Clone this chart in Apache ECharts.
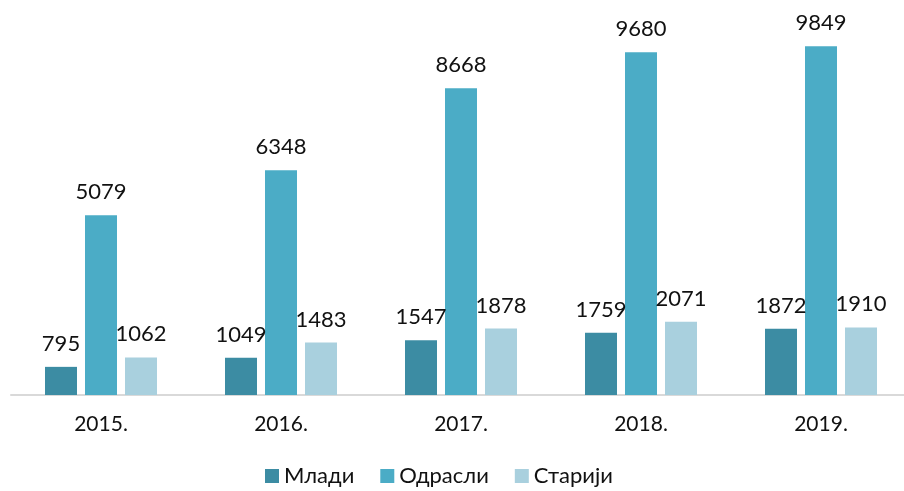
<!DOCTYPE html>
<html>
<head>
<meta charset="utf-8">
<script src="https://cdn.jsdelivr.net/npm/echarts@6/dist/echarts.min.js"></script>
<style>
  html, body { margin: 0; padding: 0; background: #fff; overflow: hidden; }
  #chart { width: 911px; height: 491px; }
</style>
</head>
<body>
<div id="chart"></div>
<script>
// податке по годинама
const years = ['2015.', '2016.', '2017.', '2018.', '2019.']
const mladi = [795, 1049, 1547, 1759, 1872]
const odrasli = [5079, 6348, 8668, 9680, 9849]
const stariji = [1062, 1483, 1878, 2071, 1910]

const seriesNames = ['Млади', 'Одрасли', 'Старији']
const colors = ['#3C8CA3', '#4BACC6', '#A9D0DE']

const chart = echarts.init(document.getElementById('chart'))
const font = 'Lato, "Noto Sans", sans-serif'

const mkSeries = (name, data, color) => ({
  name: name,
  type: 'bar',
  data: data,
  barWidth: 32,
  barGap: '25%',
  itemStyle: { color: color },
  label: {
    show: true,
    position: 'top',
    distance: 12,
    color: '#111',
    fontSize: 22,
    fontFamily: font
  }
})

chart.setOption({
  animation: false,
  color: colors,
  grid: { left: 11, right: 0, top: 41, bottom: 96 },
  xAxis: {
    type: 'category',
    data: years,
    axisLine: { lineStyle: { color: '#d9d9d9', width: 2 } },
    axisTick: { show: false },
    axisLabel: { color: '#111', fontSize: 21, fontFamily: font, margin: 19 }
  },
  yAxis: {
    type: 'value',
    min: 0,
    max: 10000,
    show: false,
    splitLine: { show: false }
  },
  legend: {
    top: 465,
    left: 265,
    padding: 0,
    itemWidth: 14,
    itemHeight: 14,
    itemGap: 26,
    icon: 'rect',
    textStyle: { color: '#111', fontSize: 22, fontFamily: font },
    data: seriesNames
  },
  series: [
    mkSeries(seriesNames[0], mladi, colors[0]),
    mkSeries(seriesNames[1], odrasli, colors[1]),
    mkSeries(seriesNames[2], stariji, colors[2])
  ]
})
</script>
</body>
</html>
